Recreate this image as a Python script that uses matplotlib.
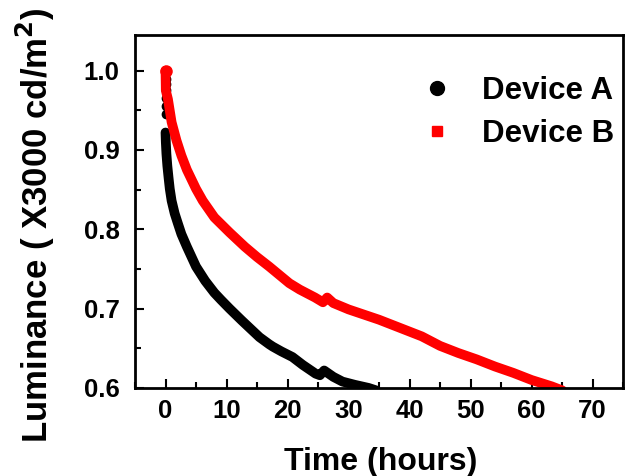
import matplotlib
matplotlib.use('Agg')
import matplotlib.pyplot as plt
from matplotlib.lines import Line2D
from matplotlib.ticker import MultipleLocator

# Device A (black) - first few readings right at t = 0
a_start_time = [0.0, 0.0, 0.0, 0.0, 0.0, 0.0, 0.0]
a_start_lum = [1.0, 0.99, 0.983, 0.975, 0.965, 0.955, 0.945]

# Device A main decay curve
a_time = [0.0, 0.05, 0.15, 0.3, 0.5, 0.7, 1.0, 1.5, 2.0, 2.6, 3.5, 5.0, 6.5, 8.0,
          9.1, 10.5, 12.5, 15.4, 17.0, 17.6, 19.0, 20.8, 22.5, 24.6, 25.3, 26.0,
          27.5, 29.0, 31.0, 33.3, 34.5]
a_lum = [0.922, 0.91, 0.895, 0.88, 0.865, 0.851, 0.836, 0.82, 0.808, 0.794, 0.778,
         0.753, 0.735, 0.72, 0.711, 0.70, 0.685, 0.664, 0.655, 0.652, 0.646, 0.639,
         0.629, 0.618, 0.616, 0.622, 0.614, 0.608, 0.604, 0.600, 0.597]

# Device B (red)
b_time = [0.0, 0.05, 0.4, 1.0, 1.8, 2.6, 3.5, 5.0, 6.1, 8.0, 10.5, 13.0, 15.0, 17.0,
          20.3, 22.0, 24.5, 25.8, 26.5, 27.5, 30.0, 35.0, 38.0, 42.0, 45.0, 48.0,
          51.0, 54.0, 57.0, 60.0, 63.3, 65.0]
b_lum = [1.0, 0.975, 0.964, 0.935, 0.912, 0.893, 0.875, 0.851, 0.836, 0.815, 0.796,
         0.778, 0.765, 0.753, 0.732, 0.724, 0.714, 0.708, 0.714, 0.707, 0.699, 0.686,
         0.677, 0.665, 0.653, 0.644, 0.636, 0.627, 0.619, 0.61, 0.602, 0.597]

plt.rcParams['font.family'] = 'Liberation Sans'
plt.rcParams['font.weight'] = 'bold'

fig = plt.figure(figsize=(6.25, 4.76), dpi=100)
ax = fig.add_axes([0.216, 0.185, 0.781, 0.7416])

ax.plot(a_start_time, a_start_lum, 'o', color='black', markersize=6)
ax.plot(a_time, a_lum, '-', color='black', lw=7, solid_capstyle='round')
ax.plot(b_time, b_lum, '-', color='red', lw=7, solid_capstyle='round')
ax.plot(b_time[:1], b_lum[:1], 'o', color='red', markersize=8)

ax.set_xlim(-5, 75)
ax.set_ylim(0.6, 1.045)
ax.xaxis.set_major_locator(MultipleLocator(10))
ax.xaxis.set_minor_locator(MultipleLocator(5))
ax.yaxis.set_major_locator(MultipleLocator(0.1))
ax.yaxis.set_minor_locator(MultipleLocator(0.05))
ax.tick_params(which='both', direction='in', width=1.5, labelsize=18.5)
ax.tick_params(which='major', length=6.5)
ax.tick_params(which='minor', length=4)
ax.tick_params(axis='x', pad=8)
ax.tick_params(axis='y', pad=11)
for s in ax.spines.values():
    s.set_linewidth(2)

fig.text(0.609, 0.012, 'Time (hours)', fontsize=23, fontweight='bold',
         ha='center', va='baseline')
fig.text(0.057, 0.527, 'Luminance ( X3000 cd/m$^\\mathbf{2}$)', rotation=90,
         fontsize=25, fontweight='bold', ha='center', va='center')

handles = [Line2D([], [], marker='o', color='black', ls='none', markersize=10),
           Line2D([], [], marker='s', color='red', ls='none', markersize=7)]
ax.legend(handles, ['Device A', 'Device B'], loc='upper right', frameon=False,
          fontsize=22.5, handletextpad=0.7, handlelength=1.5, labelspacing=0.42,
          borderaxespad=0.3, bbox_to_anchor=(1.027, 0.945))

plt.savefig('out.png', dpi=100)
